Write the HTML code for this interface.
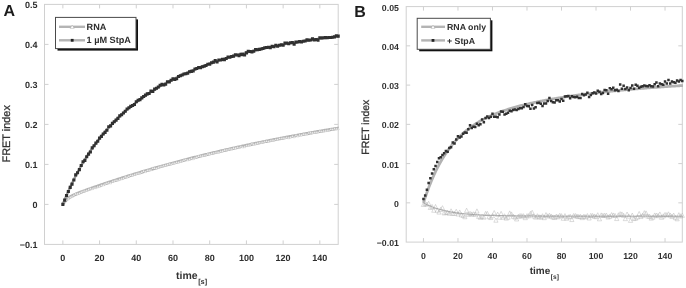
<!DOCTYPE html>
<html><head><meta charset="utf-8"><title>FRET index</title>
<style>html,body{margin:0;padding:0;background:#fff}svg{display:block;will-change:transform}text{text-rendering:geometricPrecision}</style>
</head><body>
<svg width="686" height="288" viewBox="0 0 686 288" font-family='"Liberation Sans", Arial, sans-serif' fill="#2e2e2e">
<rect width="686" height="288" fill="#fff"/>
<rect x="44.50" y="4.40" width="293.70" height="240.00" fill="#fff" stroke="#d0d0d0" stroke-width="1"/>
<path d="M62.86 244.40v-4M62.86 4.40v4M99.57 244.40v-4M99.57 4.40v4M136.28 244.40v-4M136.28 4.40v4M172.99 244.40v-4M172.99 4.40v4M209.71 244.40v-4M209.71 4.40v4M246.42 244.40v-4M246.42 4.40v4M283.13 244.40v-4M283.13 4.40v4M319.84 244.40v-4M319.84 4.40v4M44.50 44.40h4M338.20 44.40h-4M44.50 84.40h4M338.20 84.40h-4M44.50 124.40h4M338.20 124.40h-4M44.50 164.40h4M338.20 164.40h-4M44.50 204.40h4M338.20 204.40h-4" stroke="#d0d0d0" stroke-width="1" fill="none"/>
<text x="62.86" y="261.2" text-anchor="middle" font-size="9" font-weight="bold">0</text>
<text x="99.57" y="261.2" text-anchor="middle" font-size="9" font-weight="bold">20</text>
<text x="136.28" y="261.2" text-anchor="middle" font-size="9" font-weight="bold">40</text>
<text x="172.99" y="261.2" text-anchor="middle" font-size="9" font-weight="bold">60</text>
<text x="209.71" y="261.2" text-anchor="middle" font-size="9" font-weight="bold">80</text>
<text x="246.42" y="261.2" text-anchor="middle" font-size="9" font-weight="bold">100</text>
<text x="283.13" y="261.2" text-anchor="middle" font-size="9" font-weight="bold">120</text>
<text x="319.84" y="261.2" text-anchor="middle" font-size="9" font-weight="bold">140</text>
<text x="37.6" y="8.30" text-anchor="end" font-size="9" font-weight="bold">0.5</text>
<text x="37.6" y="48.30" text-anchor="end" font-size="9" font-weight="bold">0.4</text>
<text x="37.6" y="88.30" text-anchor="end" font-size="9" font-weight="bold">0.3</text>
<text x="37.6" y="128.30" text-anchor="end" font-size="9" font-weight="bold">0.2</text>
<text x="37.6" y="168.30" text-anchor="end" font-size="9" font-weight="bold">0.1</text>
<text x="37.6" y="208.30" text-anchor="end" font-size="9" font-weight="bold">0</text>
<text x="37.6" y="248.30" text-anchor="end" font-size="9" font-weight="bold">−0.1</text>
<text x="3.6" y="15.6" font-size="16" font-weight="bold" fill="#1c1c1c">A</text>
<text transform="translate(10.3,133.8) rotate(-90)" text-anchor="middle" font-size="10.9" font-weight="normal" fill="#333" stroke="#333" stroke-width="0.3">FRET index</text>
<text x="176.0" y="279.2" font-size="10.5" font-weight="bold" fill="#333">time<tspan font-size="7.3" dx="0.6" dy="5.1">[s]</tspan></text>
<polyline points="62.86,204.08 63.78,202.72 64.70,201.55 65.63,200.54 66.55,199.66 67.47,198.88 68.40,198.18 69.32,197.55 70.24,196.98 71.17,196.45 72.09,195.95 73.01,195.49 73.94,195.05 74.86,194.63 75.78,194.22 76.71,193.83 77.63,193.45 78.55,193.08 79.48,192.72 80.40,192.36 81.32,192.01 82.25,191.66 83.17,191.31 84.09,190.97 85.02,190.63 85.94,190.30 86.86,189.96 87.79,189.63 88.71,189.30 89.63,188.97 90.56,188.65 91.48,188.32 92.40,188.00 93.33,187.67 94.25,187.35 95.17,187.03 96.10,186.71 97.02,186.39 97.94,186.08 98.87,185.76 99.79,185.44 100.71,185.13 101.64,184.81 102.56,184.50 103.48,184.19 104.41,183.88 105.33,183.57 106.25,183.26 107.18,182.95 108.10,182.64 109.02,182.34 109.95,182.03 110.87,181.73 111.79,181.42 112.72,181.12 113.64,180.82 114.56,180.52 115.49,180.22 116.41,179.92 117.33,179.62 118.26,179.32 119.18,179.02 120.10,178.73 121.03,178.43 121.95,178.14 122.87,177.85 123.80,177.55 124.72,177.26 125.64,176.97 126.57,176.68 127.49,176.39 128.41,176.10 129.34,175.82 130.26,175.53 131.18,175.24 132.11,174.96 133.03,174.68 133.95,174.39 134.88,174.11 135.80,173.83 136.72,173.55 137.65,173.27 138.57,172.99 139.49,172.71 140.42,172.43 141.34,172.16 142.26,171.88 143.19,171.60 144.11,171.33 145.03,171.06 145.96,170.78 146.88,170.51 147.80,170.24 148.73,169.97 149.65,169.70 150.57,169.43 151.50,169.16 152.42,168.90 153.34,168.63 154.27,168.37 155.19,168.10 156.11,167.84 157.04,167.57 157.96,167.31 158.88,167.05 159.81,166.79 160.73,166.53 161.65,166.27 162.58,166.01 163.50,165.75 164.42,165.49 165.35,165.24 166.27,164.98 167.19,164.73 168.12,164.47 169.04,164.22 169.96,163.97 170.89,163.71 171.81,163.46 172.73,163.21 173.66,162.96 174.58,162.71 175.50,162.47 176.43,162.22 177.35,161.97 178.27,161.72 179.20,161.48 180.12,161.23 181.04,160.99 181.97,160.75 182.89,160.50 183.81,160.26 184.74,160.02 185.66,159.78 186.58,159.54 187.51,159.30 188.43,159.06 189.35,158.83 190.28,158.59 191.20,158.35 192.12,158.12 193.05,157.88 193.97,157.65 194.89,157.41 195.82,157.18 196.74,156.95 197.66,156.72 198.59,156.49 199.51,156.26 200.43,156.03 201.36,155.80 202.28,155.57 203.20,155.34 204.13,155.11 205.05,154.89 205.97,154.66 206.90,154.44 207.82,154.21 208.74,153.99 209.67,153.77 210.59,153.54 211.51,153.32 212.44,153.10 213.36,152.88 214.28,152.66 215.21,152.44 216.13,152.22 217.05,152.01 217.98,151.79 218.90,151.57 219.82,151.36 220.75,151.14 221.67,150.93 222.59,150.71 223.52,150.50 224.44,150.29 225.36,150.07 226.29,149.86 227.21,149.65 228.13,149.44 229.06,149.23 229.98,149.02 230.90,148.81 231.83,148.61 232.75,148.40 233.67,148.19 234.60,147.99 235.52,147.78 236.44,147.57 237.37,147.37 238.29,147.17 239.21,146.96 240.14,146.76 241.06,146.56 241.98,146.36 242.91,146.16 243.83,145.96 244.75,145.76 245.68,145.56 246.60,145.36 247.52,145.16 248.45,144.96 249.37,144.77 250.29,144.57 251.22,144.38 252.14,144.18 253.06,143.99 253.99,143.79 254.91,143.60 255.83,143.41 256.76,143.22 257.68,143.02 258.60,142.83 259.53,142.64 260.45,142.45 261.37,142.26 262.30,142.07 263.22,141.89 264.14,141.70 265.07,141.51 265.99,141.32 266.91,141.14 267.84,140.95 268.76,140.77 269.68,140.58 270.61,140.40 271.53,140.22 272.45,140.03 273.38,139.85 274.30,139.67 275.22,139.49 276.15,139.31 277.07,139.13 277.99,138.95 278.92,138.77 279.84,138.59 280.76,138.41 281.69,138.23 282.61,138.06 283.53,137.88 284.46,137.70 285.38,137.53 286.30,137.35 287.23,137.18 288.15,137.00 289.07,136.83 290.00,136.66 290.92,136.49 291.84,136.31 292.77,136.14 293.69,135.97 294.61,135.80 295.54,135.63 296.46,135.46 297.38,135.29 298.31,135.12 299.23,134.96 300.15,134.79 301.08,134.62 302.00,134.45 302.92,134.29 303.85,134.12 304.77,133.96 305.69,133.79 306.62,133.63 307.54,133.46 308.46,133.30 309.39,133.14 310.31,132.98 311.23,132.81 312.16,132.65 313.08,132.49 314.00,132.33 314.93,132.17 315.85,132.01 316.77,131.85 317.70,131.70 318.62,131.54 319.54,131.38 320.47,131.22 321.39,131.07 322.31,130.91 323.24,130.75 324.16,130.60 325.08,130.44 326.01,130.29 326.93,130.14 327.85,129.98 328.78,129.83 329.70,129.68 330.62,129.52 331.55,129.37 332.47,129.22 333.39,129.07 334.32,128.92 335.24,128.77 336.16,128.62 337.09,128.47 338.01,128.32 338.93,128.17" fill="none" stroke="#b2b2b2" stroke-width="3.2" stroke-linejoin="round" stroke-linecap="butt"/>
<path d="M62.86 202.98l1.10 2.20h-2.20zM64.69 200.35l1.10 2.20h-2.20zM66.53 198.69l1.10 2.20h-2.20zM68.36 197.46l1.10 2.20h-2.20zM70.20 196.08l1.10 2.20h-2.20zM72.03 195.28l1.10 2.20h-2.20zM73.87 193.95l1.10 2.20h-2.20zM75.71 192.62l1.10 2.20h-2.20zM77.54 192.58l1.10 2.20h-2.20zM79.38 191.90l1.10 2.20h-2.20zM81.21 190.75l1.10 2.20h-2.20zM83.05 190.12l1.10 2.20h-2.20zM84.88 189.54l1.10 2.20h-2.20zM86.72 189.29l1.10 2.20h-2.20zM88.55 188.27l1.10 2.20h-2.20zM90.39 187.33l1.10 2.20h-2.20zM92.23 187.50l1.10 2.20h-2.20zM94.06 186.50l1.10 2.20h-2.20zM95.90 186.44l1.10 2.20h-2.20zM97.73 185.56l1.10 2.20h-2.20zM99.57 185.16l1.10 2.20h-2.20zM101.40 183.89l1.10 2.20h-2.20zM103.24 183.68l1.10 2.20h-2.20zM105.08 182.45l1.10 2.20h-2.20zM106.91 181.88l1.10 2.20h-2.20zM108.75 181.40l1.10 2.20h-2.20zM110.58 181.73l1.10 2.20h-2.20zM112.42 180.33l1.10 2.20h-2.20zM114.25 179.54l1.10 2.20h-2.20zM116.09 178.88l1.10 2.20h-2.20zM117.92 178.94l1.10 2.20h-2.20zM119.76 177.93l1.10 2.20h-2.20zM121.60 177.54l1.10 2.20h-2.20zM123.43 176.89l1.10 2.20h-2.20zM125.27 175.57l1.10 2.20h-2.20zM127.10 175.74l1.10 2.20h-2.20zM128.94 174.85l1.10 2.20h-2.20zM130.77 173.92l1.10 2.20h-2.20zM132.61 173.94l1.10 2.20h-2.20zM134.45 173.19l1.10 2.20h-2.20zM136.28 172.54l1.10 2.20h-2.20zM138.12 172.00l1.10 2.20h-2.20zM139.95 171.96l1.10 2.20h-2.20zM141.79 170.89l1.10 2.20h-2.20zM143.62 169.83l1.10 2.20h-2.20zM145.46 170.45l1.10 2.20h-2.20zM147.29 168.95l1.10 2.20h-2.20zM149.13 168.71l1.10 2.20h-2.20zM150.97 168.48l1.10 2.20h-2.20zM152.80 166.89l1.10 2.20h-2.20zM154.64 166.85l1.10 2.20h-2.20zM156.47 167.11l1.10 2.20h-2.20zM158.31 166.08l1.10 2.20h-2.20zM160.14 165.36l1.10 2.20h-2.20zM161.98 165.15l1.10 2.20h-2.20zM163.82 164.29l1.10 2.20h-2.20zM165.65 164.08l1.10 2.20h-2.20zM167.49 163.28l1.10 2.20h-2.20zM169.32 162.47l1.10 2.20h-2.20zM171.16 162.81l1.10 2.20h-2.20zM172.99 161.96l1.10 2.20h-2.20zM174.83 161.73l1.10 2.20h-2.20zM176.66 161.00l1.10 2.20h-2.20zM178.50 161.04l1.10 2.20h-2.20zM180.34 160.31l1.10 2.20h-2.20zM182.17 159.67l1.10 2.20h-2.20zM184.01 158.75l1.10 2.20h-2.20zM185.84 158.17l1.10 2.20h-2.20zM187.68 158.69l1.10 2.20h-2.20zM189.51 158.00l1.10 2.20h-2.20zM191.35 156.95l1.10 2.20h-2.20zM193.19 157.54l1.10 2.20h-2.20zM195.02 156.47l1.10 2.20h-2.20zM196.86 155.86l1.10 2.20h-2.20zM198.69 154.86l1.10 2.20h-2.20zM200.53 154.63l1.10 2.20h-2.20zM202.36 154.58l1.10 2.20h-2.20zM204.20 154.14l1.10 2.20h-2.20zM206.03 153.65l1.10 2.20h-2.20zM207.87 152.49l1.10 2.20h-2.20zM209.71 152.83l1.10 2.20h-2.20zM211.54 152.34l1.10 2.20h-2.20zM213.38 151.64l1.10 2.20h-2.20zM215.21 151.39l1.10 2.20h-2.20zM217.05 150.99l1.10 2.20h-2.20zM218.88 150.92l1.10 2.20h-2.20zM220.72 150.05l1.10 2.20h-2.20zM222.56 149.80l1.10 2.20h-2.20zM224.39 148.73l1.10 2.20h-2.20zM226.23 148.51l1.10 2.20h-2.20zM228.06 148.37l1.10 2.20h-2.20zM229.90 147.67l1.10 2.20h-2.20zM231.73 147.66l1.10 2.20h-2.20zM233.57 146.69l1.10 2.20h-2.20zM235.40 146.71l1.10 2.20h-2.20zM237.24 146.07l1.10 2.20h-2.20zM239.08 146.41l1.10 2.20h-2.20zM240.91 145.35l1.10 2.20h-2.20zM242.75 145.77l1.10 2.20h-2.20zM244.58 145.51l1.10 2.20h-2.20zM246.42 144.42l1.10 2.20h-2.20zM248.25 144.27l1.10 2.20h-2.20zM250.09 143.45l1.10 2.20h-2.20zM251.93 142.23l1.10 2.20h-2.20zM253.76 143.07l1.10 2.20h-2.20zM255.60 142.61l1.10 2.20h-2.20zM257.43 141.89l1.10 2.20h-2.20zM259.27 141.40l1.10 2.20h-2.20zM261.10 141.29l1.10 2.20h-2.20zM262.94 140.93l1.10 2.20h-2.20zM264.77 140.19l1.10 2.20h-2.20zM266.61 139.89l1.10 2.20h-2.20zM268.45 140.14l1.10 2.20h-2.20zM270.28 139.40l1.10 2.20h-2.20zM272.12 138.99l1.10 2.20h-2.20zM273.95 139.06l1.10 2.20h-2.20zM275.79 138.17l1.10 2.20h-2.20zM277.62 138.26l1.10 2.20h-2.20zM279.46 137.17l1.10 2.20h-2.20zM281.30 137.13l1.10 2.20h-2.20zM283.13 136.82l1.10 2.20h-2.20zM284.97 136.74l1.10 2.20h-2.20zM286.80 136.21l1.10 2.20h-2.20zM288.64 136.61l1.10 2.20h-2.20zM290.47 135.92l1.10 2.20h-2.20zM292.31 134.98l1.10 2.20h-2.20zM294.14 135.64l1.10 2.20h-2.20zM295.98 134.11l1.10 2.20h-2.20zM297.82 134.81l1.10 2.20h-2.20zM299.65 133.48l1.10 2.20h-2.20zM301.49 133.78l1.10 2.20h-2.20zM303.32 132.80l1.10 2.20h-2.20zM305.16 132.74l1.10 2.20h-2.20zM306.99 133.08l1.10 2.20h-2.20zM308.83 131.64l1.10 2.20h-2.20zM310.67 131.24l1.10 2.20h-2.20zM312.50 131.52l1.10 2.20h-2.20zM314.34 131.28l1.10 2.20h-2.20zM316.17 130.92l1.10 2.20h-2.20zM318.01 130.93l1.10 2.20h-2.20zM319.84 129.79l1.10 2.20h-2.20zM321.68 130.13l1.10 2.20h-2.20zM323.51 129.63l1.10 2.20h-2.20zM325.35 129.62l1.10 2.20h-2.20zM327.19 129.24l1.10 2.20h-2.20zM329.02 129.20l1.10 2.20h-2.20zM330.86 127.88l1.10 2.20h-2.20zM332.69 128.15l1.10 2.20h-2.20zM334.53 127.40l1.10 2.20h-2.20zM336.36 127.48l1.10 2.20h-2.20zM338.20 127.47l1.10 2.20h-2.20z" fill="#fff" stroke="#bbbbbb" stroke-width="0.35" stroke-linejoin="miter"/>
<polyline points="62.86,204.40 63.78,202.08 64.70,199.81 65.63,197.58 66.55,195.39 67.47,193.25 68.40,191.15 69.32,189.09 70.24,187.07 71.17,185.09 72.09,183.14 73.01,181.23 73.94,179.36 74.86,177.52 75.78,175.71 76.71,173.93 77.63,172.19 78.55,170.48 79.48,168.80 80.40,167.15 81.32,165.52 82.25,163.93 83.17,162.36 84.09,160.82 85.02,159.30 85.94,157.81 86.86,156.35 87.79,154.90 88.71,153.49 89.63,152.09 90.56,150.72 91.48,149.36 92.40,148.03 93.33,146.73 94.25,145.44 95.17,144.17 96.10,142.92 97.02,141.69 97.94,140.47 98.87,139.28 99.79,138.10 100.71,136.94 101.64,135.80 102.56,134.67 103.48,133.56 104.41,132.47 105.33,131.39 106.25,130.33 107.18,129.28 108.10,128.24 109.02,127.22 109.95,126.21 110.87,125.22 111.79,124.24 112.72,123.27 113.64,122.32 114.56,121.38 115.49,120.45 116.41,119.53 117.33,118.62 118.26,117.73 119.18,116.85 120.10,115.98 121.03,115.11 121.95,114.26 122.87,113.42 123.80,112.59 124.72,111.77 125.64,110.96 126.57,110.16 127.49,109.37 128.41,108.59 129.34,107.82 130.26,107.05 131.18,106.30 132.11,105.55 133.03,104.82 133.95,104.09 134.88,103.37 135.80,102.65 136.72,101.95 137.65,101.25 138.57,100.56 139.49,99.88 140.42,99.21 141.34,98.54 142.26,97.88 143.19,97.23 144.11,96.58 145.03,95.94 145.96,95.31 146.88,94.68 147.80,94.06 148.73,93.45 149.65,92.84 150.57,92.24 151.50,91.65 152.42,91.06 153.34,90.48 154.27,89.90 155.19,89.33 156.11,88.77 157.04,88.21 157.96,87.66 158.88,87.11 159.81,86.57 160.73,86.03 161.65,85.50 162.58,84.97 163.50,84.45 164.42,83.93 165.35,83.42 166.27,82.91 167.19,82.41 168.12,81.91 169.04,81.42 169.96,80.93 170.89,80.45 171.81,79.97 172.73,79.50 173.66,79.03 174.58,78.56 175.50,78.10 176.43,77.65 177.35,77.19 178.27,76.74 179.20,76.30 180.12,75.86 181.04,75.42 181.97,74.99 182.89,74.56 183.81,74.14 184.74,73.72 185.66,73.30 186.58,72.89 187.51,72.48 188.43,72.07 189.35,71.67 190.28,71.27 191.20,70.88 192.12,70.49 193.05,70.10 193.97,69.71 194.89,69.33 195.82,68.95 196.74,68.58 197.66,68.21 198.59,67.84 199.51,67.48 200.43,67.11 201.36,66.76 202.28,66.40 203.20,66.05 204.13,65.70 205.05,65.35 205.97,65.01 206.90,64.67 207.82,64.33 208.74,64.00 209.67,63.67 210.59,63.34 211.51,63.01 212.44,62.69 213.36,62.37 214.28,62.05 215.21,61.74 216.13,61.42 217.05,61.11 217.98,60.81 218.90,60.50 219.82,60.20 220.75,59.90 221.67,59.61 222.59,59.31 223.52,59.02 224.44,58.73 225.36,58.44 226.29,58.16 227.21,57.88 228.13,57.60 229.06,57.32 229.98,57.05 230.90,56.77 231.83,56.50 232.75,56.23 233.67,55.97 234.60,55.70 235.52,55.44 236.44,55.18 237.37,54.93 238.29,54.67 239.21,54.42 240.14,54.17 241.06,53.92 241.98,53.67 242.91,53.43 243.83,53.19 244.75,52.95 245.68,52.71 246.60,52.47 247.52,52.24 248.45,52.00 249.37,51.77 250.29,51.54 251.22,51.32 252.14,51.09 253.06,50.87 253.99,50.65 254.91,50.43 255.83,50.21 256.76,49.99 257.68,49.78 258.60,49.57 259.53,49.36 260.45,49.15 261.37,48.94 262.30,48.73 263.22,48.53 264.14,48.33 265.07,48.13 265.99,47.93 266.91,47.73 267.84,47.54 268.76,47.34 269.68,47.15 270.61,46.96 271.53,46.77 272.45,46.58 273.38,46.40 274.30,46.21 275.22,46.03 276.15,45.85 277.07,45.67 277.99,45.49 278.92,45.31 279.84,45.13 280.76,44.96 281.69,44.79 282.61,44.61 283.53,44.44 284.46,44.28 285.38,44.11 286.30,43.94 287.23,43.78 288.15,43.61 289.07,43.45 290.00,43.29 290.92,43.13 291.84,42.97 292.77,42.82 293.69,42.66 294.61,42.51 295.54,42.35 296.46,42.20 297.38,42.05 298.31,41.90 299.23,41.75 300.15,41.61 301.08,41.46 302.00,41.32 302.92,41.17 303.85,41.03 304.77,40.89 305.69,40.75 306.62,40.61 307.54,40.47 308.46,40.34 309.39,40.20 310.31,40.07 311.23,39.93 312.16,39.80 313.08,39.67 314.00,39.54 314.93,39.41 315.85,39.28 316.77,39.16 317.70,39.03 318.62,38.91 319.54,38.78 320.47,38.66 321.39,38.54 322.31,38.42 323.24,38.30 324.16,38.18 325.08,38.06 326.01,37.94 326.93,37.83 327.85,37.71 328.78,37.60 329.70,37.49 330.62,37.37 331.55,37.26 332.47,37.15 333.39,37.04 334.32,36.93 335.24,36.83 336.16,36.72 337.09,36.61 338.01,36.51 338.93,36.40" fill="none" stroke="#9a9a9a" stroke-width="2.4" stroke-linejoin="round" stroke-linecap="butt"/>
<path d="M61.31 202.85h3.1v3.1h-3.1zM63.14 198.62h3.1v3.1h-3.1zM64.98 193.89h3.1v3.1h-3.1zM66.81 189.90h3.1v3.1h-3.1zM68.65 185.79h3.1v3.1h-3.1zM70.48 182.53h3.1v3.1h-3.1zM72.32 178.42h3.1v3.1h-3.1zM74.16 173.32h3.1v3.1h-3.1zM75.99 171.21h3.1v3.1h-3.1zM77.83 168.06h3.1v3.1h-3.1zM79.66 163.96h3.1v3.1h-3.1zM81.50 160.17h3.1v3.1h-3.1zM83.33 158.84h3.1v3.1h-3.1zM85.17 155.15h3.1v3.1h-3.1zM87.00 152.55h3.1v3.1h-3.1zM88.84 150.47h3.1v3.1h-3.1zM90.68 146.30h3.1v3.1h-3.1zM92.51 144.16h3.1v3.1h-3.1zM94.35 141.59h3.1v3.1h-3.1zM96.18 139.65h3.1v3.1h-3.1zM98.02 136.56h3.1v3.1h-3.1zM99.85 134.86h3.1v3.1h-3.1zM101.69 132.39h3.1v3.1h-3.1zM103.53 130.80h3.1v3.1h-3.1zM105.36 128.76h3.1v3.1h-3.1zM107.20 125.17h3.1v3.1h-3.1zM109.03 124.28h3.1v3.1h-3.1zM110.87 121.86h3.1v3.1h-3.1zM112.70 120.16h3.1v3.1h-3.1zM114.54 118.56h3.1v3.1h-3.1zM116.38 116.81h3.1v3.1h-3.1zM118.21 114.37h3.1v3.1h-3.1zM120.05 113.22h3.1v3.1h-3.1zM121.88 111.46h3.1v3.1h-3.1zM123.72 109.73h3.1v3.1h-3.1zM125.55 107.45h3.1v3.1h-3.1zM127.39 106.19h3.1v3.1h-3.1zM129.22 104.85h3.1v3.1h-3.1zM131.06 103.94h3.1v3.1h-3.1zM132.90 102.98h3.1v3.1h-3.1zM134.73 100.17h3.1v3.1h-3.1zM136.57 98.77h3.1v3.1h-3.1zM138.40 98.08h3.1v3.1h-3.1zM140.24 96.34h3.1v3.1h-3.1zM142.07 94.90h3.1v3.1h-3.1zM143.91 93.60h3.1v3.1h-3.1zM145.74 92.30h3.1v3.1h-3.1zM147.58 91.91h3.1v3.1h-3.1zM149.42 89.53h3.1v3.1h-3.1zM151.25 90.02h3.1v3.1h-3.1zM153.09 87.61h3.1v3.1h-3.1zM154.92 86.70h3.1v3.1h-3.1zM156.76 85.38h3.1v3.1h-3.1zM158.59 83.69h3.1v3.1h-3.1zM160.43 82.87h3.1v3.1h-3.1zM162.27 83.41h3.1v3.1h-3.1zM164.10 82.72h3.1v3.1h-3.1zM165.94 80.21h3.1v3.1h-3.1zM167.77 80.33h3.1v3.1h-3.1zM169.61 78.77h3.1v3.1h-3.1zM171.44 77.31h3.1v3.1h-3.1zM173.28 77.87h3.1v3.1h-3.1zM175.11 77.24h3.1v3.1h-3.1zM176.95 74.93h3.1v3.1h-3.1zM178.79 74.18h3.1v3.1h-3.1zM180.62 73.49h3.1v3.1h-3.1zM182.46 72.48h3.1v3.1h-3.1zM184.29 72.19h3.1v3.1h-3.1zM186.13 71.76h3.1v3.1h-3.1zM187.96 70.15h3.1v3.1h-3.1zM189.80 69.85h3.1v3.1h-3.1zM191.64 69.48h3.1v3.1h-3.1zM193.47 67.43h3.1v3.1h-3.1zM195.31 67.02h3.1v3.1h-3.1zM197.14 66.01h3.1v3.1h-3.1zM198.98 66.12h3.1v3.1h-3.1zM200.81 65.21h3.1v3.1h-3.1zM202.65 64.72h3.1v3.1h-3.1zM204.48 63.97h3.1v3.1h-3.1zM206.32 62.65h3.1v3.1h-3.1zM208.16 62.57h3.1v3.1h-3.1zM209.99 61.24h3.1v3.1h-3.1zM211.83 60.61h3.1v3.1h-3.1zM213.66 58.97h3.1v3.1h-3.1zM215.50 60.40h3.1v3.1h-3.1zM217.33 58.43h3.1v3.1h-3.1zM219.17 58.41h3.1v3.1h-3.1zM221.01 57.78h3.1v3.1h-3.1zM222.84 58.07h3.1v3.1h-3.1zM224.68 56.90h3.1v3.1h-3.1zM226.51 55.62h3.1v3.1h-3.1zM228.35 55.57h3.1v3.1h-3.1zM230.18 54.93h3.1v3.1h-3.1zM232.02 54.62h3.1v3.1h-3.1zM233.85 53.23h3.1v3.1h-3.1zM235.69 53.42h3.1v3.1h-3.1zM237.53 54.23h3.1v3.1h-3.1zM239.36 52.82h3.1v3.1h-3.1zM241.20 53.10h3.1v3.1h-3.1zM243.03 53.39h3.1v3.1h-3.1zM244.87 51.28h3.1v3.1h-3.1zM246.70 49.70h3.1v3.1h-3.1zM248.54 50.02h3.1v3.1h-3.1zM250.38 50.30h3.1v3.1h-3.1zM252.21 49.71h3.1v3.1h-3.1zM254.05 48.04h3.1v3.1h-3.1zM255.88 48.19h3.1v3.1h-3.1zM257.72 47.84h3.1v3.1h-3.1zM259.55 47.48h3.1v3.1h-3.1zM261.39 47.02h3.1v3.1h-3.1zM263.22 46.16h3.1v3.1h-3.1zM265.06 45.91h3.1v3.1h-3.1zM266.90 45.73h3.1v3.1h-3.1zM268.73 46.10h3.1v3.1h-3.1zM270.57 44.79h3.1v3.1h-3.1zM272.40 45.14h3.1v3.1h-3.1zM274.24 43.71h3.1v3.1h-3.1zM276.07 44.77h3.1v3.1h-3.1zM277.91 43.74h3.1v3.1h-3.1zM279.75 43.31h3.1v3.1h-3.1zM281.58 43.76h3.1v3.1h-3.1zM283.42 41.60h3.1v3.1h-3.1zM285.25 41.43h3.1v3.1h-3.1zM287.09 42.26h3.1v3.1h-3.1zM288.92 41.20h3.1v3.1h-3.1zM290.76 41.12h3.1v3.1h-3.1zM292.59 42.60h3.1v3.1h-3.1zM294.43 40.58h3.1v3.1h-3.1zM296.27 40.47h3.1v3.1h-3.1zM298.10 40.09h3.1v3.1h-3.1zM299.94 40.49h3.1v3.1h-3.1zM301.77 39.72h3.1v3.1h-3.1zM303.61 39.39h3.1v3.1h-3.1zM305.44 38.29h3.1v3.1h-3.1zM307.28 38.53h3.1v3.1h-3.1zM309.12 38.47h3.1v3.1h-3.1zM310.95 37.29h3.1v3.1h-3.1zM312.79 38.28h3.1v3.1h-3.1zM314.62 37.92h3.1v3.1h-3.1zM316.46 38.53h3.1v3.1h-3.1zM318.29 36.25h3.1v3.1h-3.1zM320.13 36.37h3.1v3.1h-3.1zM321.96 36.16h3.1v3.1h-3.1zM323.80 36.08h3.1v3.1h-3.1zM325.64 36.18h3.1v3.1h-3.1zM327.47 35.89h3.1v3.1h-3.1zM329.31 35.95h3.1v3.1h-3.1zM331.14 35.70h3.1v3.1h-3.1zM332.98 35.33h3.1v3.1h-3.1zM334.81 34.24h3.1v3.1h-3.1zM336.65 34.60h3.1v3.1h-3.1z" fill="#303030"/>
<rect x="57.5" y="19.4" width="80.5" height="31.2" fill="#111"/>
<rect x="55.5" y="17.4" width="80.5" height="31.2" fill="#fff" stroke="#4a4a4a" stroke-width="1"/>
<line x1="59" y1="26.8" x2="85" y2="26.8" stroke="#b4b4b4" stroke-width="2.4"/>
<path d="M72.2 25.0l2 3.4h-4z" fill="#fff" stroke="#aaa" stroke-width="0.5"/>
<text x="86.6" y="30.1" font-size="9.15" font-weight="bold">RNA</text>
<line x1="59" y1="40.3" x2="85" y2="40.3" stroke="#b4b4b4" stroke-width="2.4"/>
<rect x="70.8" y="38.9" width="2.8" height="2.8" fill="#222"/>
<text x="86.6" y="43.4" font-size="9.15" font-weight="bold">1 µM StpA</text>
<rect x="406.20" y="6.60" width="276.10" height="235.50" fill="#fff" stroke="#d0d0d0" stroke-width="1"/>
<path d="M423.46 242.10v-4M423.46 6.60v4M457.97 242.10v-4M457.97 6.60v4M492.48 242.10v-4M492.48 6.60v4M526.99 242.10v-4M526.99 6.60v4M561.51 242.10v-4M561.51 6.60v4M596.02 242.10v-4M596.02 6.60v4M630.53 242.10v-4M630.53 6.60v4M665.04 242.10v-4M665.04 6.60v4M406.20 45.85h4M682.30 45.85h-4M406.20 85.10h4M682.30 85.10h-4M406.20 124.35h4M682.30 124.35h-4M406.20 163.60h4M682.30 163.60h-4M406.20 202.85h4M682.30 202.85h-4" stroke="#d0d0d0" stroke-width="1" fill="none"/>
<text x="423.46" y="258.5" text-anchor="middle" font-size="8.75" font-weight="bold">0</text>
<text x="457.97" y="258.5" text-anchor="middle" font-size="8.75" font-weight="bold">20</text>
<text x="492.48" y="258.5" text-anchor="middle" font-size="8.75" font-weight="bold">40</text>
<text x="526.99" y="258.5" text-anchor="middle" font-size="8.75" font-weight="bold">60</text>
<text x="561.51" y="258.5" text-anchor="middle" font-size="8.75" font-weight="bold">80</text>
<text x="596.02" y="258.5" text-anchor="middle" font-size="8.75" font-weight="bold">100</text>
<text x="630.53" y="258.5" text-anchor="middle" font-size="8.75" font-weight="bold">120</text>
<text x="665.04" y="258.5" text-anchor="middle" font-size="8.75" font-weight="bold">140</text>
<text x="398.9" y="10.50" text-anchor="end" font-size="8.75" font-weight="bold">0.05</text>
<text x="398.9" y="49.75" text-anchor="end" font-size="8.75" font-weight="bold">0.04</text>
<text x="398.9" y="89.00" text-anchor="end" font-size="8.75" font-weight="bold">0.03</text>
<text x="398.9" y="128.25" text-anchor="end" font-size="8.75" font-weight="bold">0.02</text>
<text x="398.9" y="167.50" text-anchor="end" font-size="8.75" font-weight="bold">0.01</text>
<text x="398.9" y="206.75" text-anchor="end" font-size="8.75" font-weight="bold">0</text>
<text x="398.9" y="246.00" text-anchor="end" font-size="8.75" font-weight="bold">−0.01</text>
<text x="354.3" y="16.5" font-size="16" font-weight="bold" fill="#1c1c1c">B</text>
<text transform="translate(369.2,127.2) rotate(-90)" text-anchor="middle" font-size="10.45" font-weight="normal" fill="#333" stroke="#333" stroke-width="0.3">FRET index</text>
<text x="529.7" y="273.8" font-size="10" font-weight="bold" fill="#333">time<tspan font-size="6.6" dx="0.6" dy="5.4">[s]</tspan></text>
<polyline points="423.46,202.85 424.32,200.15 425.19,197.54 426.06,195.00 426.93,192.54 427.80,190.15 428.66,187.83 429.53,185.57 430.40,183.38 431.27,181.26 432.14,179.20 433.00,177.19 433.87,175.25 434.74,173.36 435.61,171.52 436.48,169.74 437.34,168.00 438.21,166.32 439.08,164.68 439.95,163.09 440.82,161.54 441.68,160.04 442.55,158.58 443.42,157.15 444.29,155.77 445.16,154.43 446.02,153.12 446.89,151.84 447.76,150.61 448.63,149.40 449.50,148.23 450.36,147.08 451.23,145.97 452.10,144.89 452.97,143.83 453.84,142.80 454.70,141.80 455.57,140.83 456.44,139.88 457.31,138.95 458.18,138.05 459.04,137.17 459.91,136.31 460.78,135.47 461.65,134.66 462.52,133.86 463.38,133.09 464.25,132.33 465.12,131.59 465.99,130.87 466.86,130.16 467.72,129.47 468.59,128.80 469.46,128.14 470.33,127.50 471.20,126.87 472.06,126.26 472.93,125.66 473.80,125.08 474.67,124.51 475.54,123.95 476.40,123.40 477.27,122.86 478.14,122.34 479.01,121.82 479.88,121.32 480.74,120.83 481.61,120.35 482.48,119.88 483.35,119.41 484.22,118.96 485.08,118.52 485.95,118.08 486.82,117.65 487.69,117.24 488.56,116.83 489.42,116.42 490.29,116.03 491.16,115.64 492.03,115.26 492.90,114.89 493.76,114.52 494.63,114.16 495.50,113.81 496.37,113.46 497.24,113.12 498.10,112.79 498.97,112.46 499.84,112.13 500.71,111.81 501.58,111.50 502.44,111.19 503.31,110.89 504.18,110.59 505.05,110.30 505.92,110.01 506.78,109.73 507.65,109.45 508.52,109.17 509.39,108.90 510.26,108.63 511.12,108.37 511.99,108.11 512.86,107.85 513.73,107.60 514.60,107.35 515.46,107.11 516.33,106.87 517.20,106.63 518.07,106.39 518.94,106.16 519.80,105.93 520.67,105.70 521.54,105.48 522.41,105.26 523.28,105.04 524.15,104.83 525.01,104.62 525.88,104.41 526.75,104.20 527.62,104.00 528.49,103.80 529.35,103.60 530.22,103.40 531.09,103.20 531.96,103.01 532.83,102.82 533.69,102.63 534.56,102.45 535.43,102.26 536.30,102.08 537.17,101.90 538.03,101.72 538.90,101.55 539.77,101.37 540.64,101.20 541.51,101.03 542.37,100.86 543.24,100.69 544.11,100.53 544.98,100.36 545.85,100.20 546.71,100.04 547.58,99.88 548.45,99.72 549.32,99.57 550.19,99.41 551.05,99.26 551.92,99.11 552.79,98.96 553.66,98.81 554.53,98.66 555.39,98.52 556.26,98.37 557.13,98.23 558.00,98.08 558.87,97.94 559.73,97.80 560.60,97.66 561.47,97.53 562.34,97.39 563.21,97.26 564.07,97.12 564.94,96.99 565.81,96.86 566.68,96.73 567.55,96.60 568.41,96.47 569.28,96.34 570.15,96.21 571.02,96.09 571.89,95.96 572.75,95.84 573.62,95.72 574.49,95.60 575.36,95.48 576.23,95.36 577.09,95.24 577.96,95.12 578.83,95.00 579.70,94.89 580.57,94.77 581.43,94.66 582.30,94.54 583.17,94.43 584.04,94.32 584.91,94.21 585.77,94.10 586.64,93.99 587.51,93.88 588.38,93.77 589.25,93.67 590.11,93.56 590.98,93.46 591.85,93.35 592.72,93.25 593.59,93.14 594.45,93.04 595.32,92.94 596.19,92.84 597.06,92.74 597.93,92.64 598.79,92.54 599.66,92.44 600.53,92.35 601.40,92.25 602.27,92.15 603.13,92.06 604.00,91.96 604.87,91.87 605.74,91.78 606.61,91.68 607.47,91.59 608.34,91.50 609.21,91.41 610.08,91.32 610.95,91.23 611.81,91.14 612.68,91.05 613.55,90.96 614.42,90.88 615.29,90.79 616.15,90.70 617.02,90.62 617.89,90.53 618.76,90.45 619.63,90.37 620.49,90.28 621.36,90.20 622.23,90.12 623.10,90.04 623.97,89.96 624.83,89.87 625.70,89.80 626.57,89.72 627.44,89.64 628.31,89.56 629.17,89.48 630.04,89.40 630.91,89.33 631.78,89.25 632.65,89.17 633.51,89.10 634.38,89.02 635.25,88.95 636.12,88.88 636.99,88.80 637.85,88.73 638.72,88.66 639.59,88.59 640.46,88.51 641.33,88.44 642.19,88.37 643.06,88.30 643.93,88.23 644.80,88.16 645.67,88.09 646.53,88.03 647.40,87.96 648.27,87.89 649.14,87.82 650.01,87.76 650.87,87.69 651.74,87.63 652.61,87.56 653.48,87.49 654.35,87.43 655.21,87.37 656.08,87.30 656.95,87.24 657.82,87.18 658.69,87.11 659.55,87.05 660.42,86.99 661.29,86.93 662.16,86.87 663.03,86.81 663.89,86.75 664.76,86.69 665.63,86.63 666.50,86.57 667.37,86.51 668.23,86.45 669.10,86.40 669.97,86.34 670.84,86.28 671.71,86.22 672.57,86.17 673.44,86.11 674.31,86.06 675.18,86.00 676.05,85.95 676.91,85.89 677.78,85.84 678.65,85.78 679.52,85.73 680.39,85.68 681.25,85.62 682.12,85.57 682.99,85.52" fill="none" stroke="#b2b2b2" stroke-width="2.8" stroke-linejoin="round" stroke-linecap="butt"/>
<path d="M423.46 202.28l2.10 4.20h-4.20zM425.18 201.46l2.10 4.20h-4.20zM426.91 202.04l2.10 4.20h-4.20zM428.63 201.24l2.10 4.20h-4.20zM430.36 205.27l2.10 4.20h-4.20zM432.08 204.43l2.10 4.20h-4.20zM433.81 208.05l2.10 4.20h-4.20zM435.54 204.46l2.10 4.20h-4.20zM437.26 208.08l2.10 4.20h-4.20zM438.99 209.88l2.10 4.20h-4.20zM440.71 207.27l2.10 4.20h-4.20zM442.44 205.67l2.10 4.20h-4.20zM444.16 210.73l2.10 4.20h-4.20zM445.89 210.35l2.10 4.20h-4.20zM447.62 210.11l2.10 4.20h-4.20zM449.34 211.13l2.10 4.20h-4.20zM451.07 208.78l2.10 4.20h-4.20zM452.79 211.17l2.10 4.20h-4.20zM454.52 211.29l2.10 4.20h-4.20zM456.24 209.24l2.10 4.20h-4.20zM457.97 211.84l2.10 4.20h-4.20zM459.69 209.96l2.10 4.20h-4.20zM461.42 212.65l2.10 4.20h-4.20zM463.15 213.26l2.10 4.20h-4.20zM464.87 214.54l2.10 4.20h-4.20zM466.60 208.18l2.10 4.20h-4.20zM468.32 212.18l2.10 4.20h-4.20zM470.05 211.33l2.10 4.20h-4.20zM471.77 211.95l2.10 4.20h-4.20zM473.50 211.74l2.10 4.20h-4.20zM475.22 212.05l2.10 4.20h-4.20zM476.95 208.87l2.10 4.20h-4.20zM478.68 214.18l2.10 4.20h-4.20zM480.40 215.19l2.10 4.20h-4.20zM482.13 214.31l2.10 4.20h-4.20zM483.85 214.96l2.10 4.20h-4.20zM485.58 211.36l2.10 4.20h-4.20zM487.30 211.30l2.10 4.20h-4.20zM489.03 214.52l2.10 4.20h-4.20zM490.76 215.34l2.10 4.20h-4.20zM492.48 213.56l2.10 4.20h-4.20zM494.21 210.53l2.10 4.20h-4.20zM495.93 218.02l2.10 4.20h-4.20zM497.66 212.15l2.10 4.20h-4.20zM499.38 215.03l2.10 4.20h-4.20zM501.11 211.33l2.10 4.20h-4.20zM502.83 215.11l2.10 4.20h-4.20zM504.56 213.74l2.10 4.20h-4.20zM506.29 215.93l2.10 4.20h-4.20zM508.01 215.03l2.10 4.20h-4.20zM509.74 210.88l2.10 4.20h-4.20zM511.46 211.90l2.10 4.20h-4.20zM513.19 214.09l2.10 4.20h-4.20zM514.91 214.94l2.10 4.20h-4.20zM516.64 216.77l2.10 4.20h-4.20zM518.37 214.14l2.10 4.20h-4.20zM520.09 213.51l2.10 4.20h-4.20zM521.82 213.62l2.10 4.20h-4.20zM523.54 213.66l2.10 4.20h-4.20zM525.27 215.49l2.10 4.20h-4.20zM526.99 213.64l2.10 4.20h-4.20zM528.72 213.60l2.10 4.20h-4.20zM530.44 211.26l2.10 4.20h-4.20zM532.17 210.26l2.10 4.20h-4.20zM533.90 213.81l2.10 4.20h-4.20zM535.62 214.93l2.10 4.20h-4.20zM537.35 213.70l2.10 4.20h-4.20zM539.07 214.66l2.10 4.20h-4.20zM540.80 214.91l2.10 4.20h-4.20zM542.52 213.71l2.10 4.20h-4.20zM544.25 215.46l2.10 4.20h-4.20zM545.98 212.55l2.10 4.20h-4.20zM547.70 213.81l2.10 4.20h-4.20zM549.43 213.19l2.10 4.20h-4.20zM551.15 213.96l2.10 4.20h-4.20zM552.88 214.92l2.10 4.20h-4.20zM554.60 215.32l2.10 4.20h-4.20zM556.33 214.07l2.10 4.20h-4.20zM558.05 214.62l2.10 4.20h-4.20zM559.78 213.24l2.10 4.20h-4.20zM561.51 213.67l2.10 4.20h-4.20zM563.23 216.07l2.10 4.20h-4.20zM564.96 213.55l2.10 4.20h-4.20zM566.68 216.04l2.10 4.20h-4.20zM568.41 214.76l2.10 4.20h-4.20zM570.13 214.19l2.10 4.20h-4.20zM571.86 217.34l2.10 4.20h-4.20zM573.59 213.51l2.10 4.20h-4.20zM575.31 213.41l2.10 4.20h-4.20zM577.04 213.96l2.10 4.20h-4.20zM578.76 214.43l2.10 4.20h-4.20zM580.49 214.34l2.10 4.20h-4.20zM582.21 215.41l2.10 4.20h-4.20zM583.94 214.16l2.10 4.20h-4.20zM585.66 214.66l2.10 4.20h-4.20zM587.39 213.53l2.10 4.20h-4.20zM589.12 215.82l2.10 4.20h-4.20zM590.84 213.27l2.10 4.20h-4.20zM592.57 213.44l2.10 4.20h-4.20zM594.29 213.94l2.10 4.20h-4.20zM596.02 214.47l2.10 4.20h-4.20zM597.74 212.72l2.10 4.20h-4.20zM599.47 216.63l2.10 4.20h-4.20zM601.20 212.88l2.10 4.20h-4.20zM602.92 213.27l2.10 4.20h-4.20zM604.65 213.19l2.10 4.20h-4.20zM606.37 213.02l2.10 4.20h-4.20zM608.10 214.85l2.10 4.20h-4.20zM609.82 214.15l2.10 4.20h-4.20zM611.55 212.57l2.10 4.20h-4.20zM613.27 212.94l2.10 4.20h-4.20zM615.00 213.33l2.10 4.20h-4.20zM616.73 216.37l2.10 4.20h-4.20zM618.45 212.75l2.10 4.20h-4.20zM620.18 211.63l2.10 4.20h-4.20zM621.90 211.92l2.10 4.20h-4.20zM623.63 213.29l2.10 4.20h-4.20zM625.35 216.45l2.10 4.20h-4.20zM627.08 212.03l2.10 4.20h-4.20zM628.81 213.96l2.10 4.20h-4.20zM630.53 218.17l2.10 4.20h-4.20zM632.26 213.03l2.10 4.20h-4.20zM633.98 216.34l2.10 4.20h-4.20zM635.71 215.99l2.10 4.20h-4.20zM637.43 214.82l2.10 4.20h-4.20zM639.16 211.45l2.10 4.20h-4.20zM640.88 214.36l2.10 4.20h-4.20zM642.61 213.22l2.10 4.20h-4.20zM644.34 210.61l2.10 4.20h-4.20zM646.06 210.89l2.10 4.20h-4.20zM647.79 213.88l2.10 4.20h-4.20zM649.51 214.13l2.10 4.20h-4.20zM651.24 215.93l2.10 4.20h-4.20zM652.96 214.93l2.10 4.20h-4.20zM654.69 212.95l2.10 4.20h-4.20zM656.42 213.00l2.10 4.20h-4.20zM658.14 213.51l2.10 4.20h-4.20zM659.87 211.94l2.10 4.20h-4.20zM661.59 215.07l2.10 4.20h-4.20zM663.32 213.80l2.10 4.20h-4.20zM665.04 212.41l2.10 4.20h-4.20zM666.77 212.67l2.10 4.20h-4.20zM668.49 211.81l2.10 4.20h-4.20zM670.22 213.00l2.10 4.20h-4.20zM671.95 214.25l2.10 4.20h-4.20zM673.67 213.06l2.10 4.20h-4.20zM675.40 215.47l2.10 4.20h-4.20zM677.12 216.60l2.10 4.20h-4.20zM678.85 212.68l2.10 4.20h-4.20zM680.57 213.80l2.10 4.20h-4.20zM682.30 213.16l2.10 4.20h-4.20z" fill="rgba(255,255,255,0.65)" stroke="#b0b0b0" stroke-width="0.45" stroke-linejoin="miter"/>
<polyline points="423.46,202.85 424.32,203.32 425.19,203.78 426.06,204.21 426.93,204.64 427.80,205.04 428.66,205.44 429.53,205.82 430.40,206.18 431.27,206.54 432.14,206.88 433.00,207.21 433.87,207.52 434.74,207.83 435.61,208.13 436.48,208.41 437.34,208.68 438.21,208.95 439.08,209.21 439.95,209.45 440.82,209.69 441.68,209.92 442.55,210.14 443.42,210.35 444.29,210.56 445.16,210.76 446.02,210.95 446.89,211.14 447.76,211.32 448.63,211.49 449.50,211.65 450.36,211.81 451.23,211.97 452.10,212.12 452.97,212.26 453.84,212.40 454.70,212.53 455.57,212.66 456.44,212.79 457.31,212.91 458.18,213.02 459.04,213.14 459.91,213.24 460.78,213.35 461.65,213.45 462.52,213.55 463.38,213.64 464.25,213.73 465.12,213.82 465.99,213.90 466.86,213.98 467.72,214.06 468.59,214.13 469.46,214.21 470.33,214.28 471.20,214.35 472.06,214.41 472.93,214.47 473.80,214.53 474.67,214.59 475.54,214.65 476.40,214.70 477.27,214.76 478.14,214.81 479.01,214.86 479.88,214.90 480.74,214.95 481.61,214.99 482.48,215.04 483.35,215.08 484.22,215.12 485.08,215.15 485.95,215.19 486.82,215.23 487.69,215.26 488.56,215.29 489.42,215.33 490.29,215.36 491.16,215.39 492.03,215.41 492.90,215.44 493.76,215.47 494.63,215.49 495.50,215.52 496.37,215.54 497.24,215.57 498.10,215.59 498.97,215.61 499.84,215.63 500.71,215.65 501.58,215.67 502.44,215.69 503.31,215.71 504.18,215.72 505.05,215.74 505.92,215.76 506.78,215.77 507.65,215.79 508.52,215.80 509.39,215.81 510.26,215.83 511.12,215.84 511.99,215.85 512.86,215.87 513.73,215.88 514.60,215.89 515.46,215.90 516.33,215.91 517.20,215.92 518.07,215.93 518.94,215.94 519.80,215.95 520.67,215.96 521.54,215.96 522.41,215.97 523.28,215.98 524.15,215.99 525.01,216.00 525.88,216.00 526.75,216.01 527.62,216.02 528.49,216.02 529.35,216.03 530.22,216.03 531.09,216.04 531.96,216.05 532.83,216.05 533.69,216.06 534.56,216.06 535.43,216.07 536.30,216.07 537.17,216.07 538.03,216.08 538.90,216.08 539.77,216.09 540.64,216.09 541.51,216.09 542.37,216.10 543.24,216.10 544.11,216.10 544.98,216.11 545.85,216.11 546.71,216.11 547.58,216.12 548.45,216.12 549.32,216.12 550.19,216.12 551.05,216.13 551.92,216.13 552.79,216.13 553.66,216.13 554.53,216.14 555.39,216.14 556.26,216.14 557.13,216.14 558.00,216.14 558.87,216.15 559.73,216.15 560.60,216.15 561.47,216.15 562.34,216.15 563.21,216.15 564.07,216.16 564.94,216.16 565.81,216.16 566.68,216.16 567.55,216.16 568.41,216.16 569.28,216.16 570.15,216.16 571.02,216.17 571.89,216.17 572.75,216.17 573.62,216.17 574.49,216.17 575.36,216.17 576.23,216.17 577.09,216.17 577.96,216.17 578.83,216.17 579.70,216.17 580.57,216.18 581.43,216.18 582.30,216.18 583.17,216.18 584.04,216.18 584.91,216.18 585.77,216.18 586.64,216.18 587.51,216.18 588.38,216.18 589.25,216.18 590.11,216.18 590.98,216.18 591.85,216.18 592.72,216.18 593.59,216.18 594.45,216.18 595.32,216.18 596.19,216.18 597.06,216.18 597.93,216.19 598.79,216.19 599.66,216.19 600.53,216.19 601.40,216.19 602.27,216.19 603.13,216.19 604.00,216.19 604.87,216.19 605.74,216.19 606.61,216.19 607.47,216.19 608.34,216.19 609.21,216.19 610.08,216.19 610.95,216.19 611.81,216.19 612.68,216.19 613.55,216.19 614.42,216.19 615.29,216.19 616.15,216.19 617.02,216.19 617.89,216.19 618.76,216.19 619.63,216.19 620.49,216.19 621.36,216.19 622.23,216.19 623.10,216.19 623.97,216.19 624.83,216.19 625.70,216.19 626.57,216.19 627.44,216.19 628.31,216.19 629.17,216.19 630.04,216.19 630.91,216.19 631.78,216.19 632.65,216.19 633.51,216.19 634.38,216.19 635.25,216.19 636.12,216.19 636.99,216.19 637.85,216.19 638.72,216.19 639.59,216.19 640.46,216.19 641.33,216.19 642.19,216.19 643.06,216.19 643.93,216.19 644.80,216.19 645.67,216.19 646.53,216.19 647.40,216.19 648.27,216.19 649.14,216.19 650.01,216.19 650.87,216.19 651.74,216.19 652.61,216.19 653.48,216.19 654.35,216.19 655.21,216.19 656.08,216.19 656.95,216.19 657.82,216.19 658.69,216.19 659.55,216.19 660.42,216.19 661.29,216.19 662.16,216.19 663.03,216.19 663.89,216.19 664.76,216.19 665.63,216.19 666.50,216.19 667.37,216.19 668.23,216.19 669.10,216.19 669.97,216.19 670.84,216.19 671.71,216.19 672.57,216.19 673.44,216.19 674.31,216.19 675.18,216.19 676.05,216.19 676.91,216.19 677.78,216.19 678.65,216.19 679.52,216.19 680.39,216.19 681.25,216.19 682.12,216.19 682.99,216.19" fill="none" stroke="#989898" stroke-width="0.9" stroke-linejoin="round" stroke-linecap="butt"/>
<path d="M422.21 197.68h2.5v2.5h-2.5zM423.93 194.23h2.5v2.5h-2.5zM425.66 188.41h2.5v2.5h-2.5zM427.38 181.68h2.5v2.5h-2.5zM429.11 176.90h2.5v2.5h-2.5zM430.83 172.18h2.5v2.5h-2.5zM432.56 168.01h2.5v2.5h-2.5zM434.29 164.76h2.5v2.5h-2.5zM436.01 160.66h2.5v2.5h-2.5zM437.74 156.96h2.5v2.5h-2.5zM439.46 155.92h2.5v2.5h-2.5zM441.19 153.75h2.5v2.5h-2.5zM442.91 151.94h2.5v2.5h-2.5zM444.64 149.75h2.5v2.5h-2.5zM446.37 150.62h2.5v2.5h-2.5zM448.09 146.80h2.5v2.5h-2.5zM449.82 146.02h2.5v2.5h-2.5zM451.54 141.35h2.5v2.5h-2.5zM453.27 142.27h2.5v2.5h-2.5zM454.99 138.28h2.5v2.5h-2.5zM456.72 134.99h2.5v2.5h-2.5zM458.44 136.36h2.5v2.5h-2.5zM460.17 135.25h2.5v2.5h-2.5zM461.90 132.43h2.5v2.5h-2.5zM463.62 131.31h2.5v2.5h-2.5zM465.35 131.58h2.5v2.5h-2.5zM467.07 127.88h2.5v2.5h-2.5zM468.80 124.08h2.5v2.5h-2.5zM470.52 126.65h2.5v2.5h-2.5zM472.25 125.44h2.5v2.5h-2.5zM473.97 125.77h2.5v2.5h-2.5zM475.70 122.50h2.5v2.5h-2.5zM477.43 124.12h2.5v2.5h-2.5zM479.15 122.97h2.5v2.5h-2.5zM480.88 118.16h2.5v2.5h-2.5zM482.60 120.92h2.5v2.5h-2.5zM484.33 116.84h2.5v2.5h-2.5zM486.05 115.34h2.5v2.5h-2.5zM487.78 116.69h2.5v2.5h-2.5zM489.51 115.50h2.5v2.5h-2.5zM491.23 112.51h2.5v2.5h-2.5zM492.96 115.41h2.5v2.5h-2.5zM494.68 115.43h2.5v2.5h-2.5zM496.41 116.08h2.5v2.5h-2.5zM498.13 113.19h2.5v2.5h-2.5zM499.86 110.26h2.5v2.5h-2.5zM501.58 110.57h2.5v2.5h-2.5zM503.31 113.17h2.5v2.5h-2.5zM505.04 112.51h2.5v2.5h-2.5zM506.76 111.42h2.5v2.5h-2.5zM508.49 109.62h2.5v2.5h-2.5zM510.21 109.96h2.5v2.5h-2.5zM511.94 108.79h2.5v2.5h-2.5zM513.66 108.19h2.5v2.5h-2.5zM515.39 108.72h2.5v2.5h-2.5zM517.12 107.85h2.5v2.5h-2.5zM518.84 107.00h2.5v2.5h-2.5zM520.57 107.04h2.5v2.5h-2.5zM522.29 105.65h2.5v2.5h-2.5zM524.02 102.97h2.5v2.5h-2.5zM525.74 104.65h2.5v2.5h-2.5zM527.47 105.12h2.5v2.5h-2.5zM529.19 107.58h2.5v2.5h-2.5zM530.92 103.75h2.5v2.5h-2.5zM532.65 107.19h2.5v2.5h-2.5zM534.37 105.90h2.5v2.5h-2.5zM536.10 101.76h2.5v2.5h-2.5zM537.82 101.61h2.5v2.5h-2.5zM539.55 102.62h2.5v2.5h-2.5zM541.27 104.80h2.5v2.5h-2.5zM543.00 102.20h2.5v2.5h-2.5zM544.73 102.32h2.5v2.5h-2.5zM546.45 99.77h2.5v2.5h-2.5zM548.18 96.72h2.5v2.5h-2.5zM549.90 99.70h2.5v2.5h-2.5zM551.63 100.97h2.5v2.5h-2.5zM553.35 101.24h2.5v2.5h-2.5zM555.08 99.04h2.5v2.5h-2.5zM556.80 98.88h2.5v2.5h-2.5zM558.53 100.13h2.5v2.5h-2.5zM560.26 97.68h2.5v2.5h-2.5zM561.98 99.42h2.5v2.5h-2.5zM563.71 95.35h2.5v2.5h-2.5zM565.43 95.10h2.5v2.5h-2.5zM567.16 94.73h2.5v2.5h-2.5zM568.88 96.97h2.5v2.5h-2.5zM570.61 95.02h2.5v2.5h-2.5zM572.34 95.77h2.5v2.5h-2.5zM574.06 95.88h2.5v2.5h-2.5zM575.79 95.50h2.5v2.5h-2.5zM577.51 96.79h2.5v2.5h-2.5zM579.24 96.73h2.5v2.5h-2.5zM580.96 92.76h2.5v2.5h-2.5zM582.69 94.10h2.5v2.5h-2.5zM584.41 93.16h2.5v2.5h-2.5zM586.14 91.60h2.5v2.5h-2.5zM587.87 95.76h2.5v2.5h-2.5zM589.59 93.85h2.5v2.5h-2.5zM591.32 91.93h2.5v2.5h-2.5zM593.04 91.25h2.5v2.5h-2.5zM594.77 92.19h2.5v2.5h-2.5zM596.49 89.55h2.5v2.5h-2.5zM598.22 90.59h2.5v2.5h-2.5zM599.95 92.63h2.5v2.5h-2.5zM601.67 91.86h2.5v2.5h-2.5zM603.40 88.70h2.5v2.5h-2.5zM605.12 88.96h2.5v2.5h-2.5zM606.85 92.57h2.5v2.5h-2.5zM608.57 86.93h2.5v2.5h-2.5zM610.30 87.89h2.5v2.5h-2.5zM612.02 86.38h2.5v2.5h-2.5zM613.75 88.95h2.5v2.5h-2.5zM615.48 88.54h2.5v2.5h-2.5zM617.20 89.64h2.5v2.5h-2.5zM618.93 83.34h2.5v2.5h-2.5zM620.65 87.55h2.5v2.5h-2.5zM622.38 84.39h2.5v2.5h-2.5zM624.10 87.82h2.5v2.5h-2.5zM625.83 86.23h2.5v2.5h-2.5zM627.56 89.01h2.5v2.5h-2.5zM629.28 86.64h2.5v2.5h-2.5zM631.01 84.14h2.5v2.5h-2.5zM632.73 87.59h2.5v2.5h-2.5zM634.46 83.52h2.5v2.5h-2.5zM636.18 84.50h2.5v2.5h-2.5zM637.91 86.54h2.5v2.5h-2.5zM639.63 85.42h2.5v2.5h-2.5zM641.36 85.12h2.5v2.5h-2.5zM643.09 84.22h2.5v2.5h-2.5zM644.81 84.80h2.5v2.5h-2.5zM646.54 85.05h2.5v2.5h-2.5zM648.26 83.97h2.5v2.5h-2.5zM649.99 84.94h2.5v2.5h-2.5zM651.71 85.16h2.5v2.5h-2.5zM653.44 82.90h2.5v2.5h-2.5zM655.17 81.15h2.5v2.5h-2.5zM656.89 84.92h2.5v2.5h-2.5zM658.62 82.18h2.5v2.5h-2.5zM660.34 83.05h2.5v2.5h-2.5zM662.07 83.38h2.5v2.5h-2.5zM663.79 80.16h2.5v2.5h-2.5zM665.52 82.22h2.5v2.5h-2.5zM667.24 78.69h2.5v2.5h-2.5zM668.97 82.25h2.5v2.5h-2.5zM670.70 80.13h2.5v2.5h-2.5zM672.42 80.94h2.5v2.5h-2.5zM674.15 81.61h2.5v2.5h-2.5zM675.87 79.21h2.5v2.5h-2.5zM677.60 80.24h2.5v2.5h-2.5zM679.32 78.80h2.5v2.5h-2.5zM681.05 79.68h2.5v2.5h-2.5z" fill="#303030"/>
<rect x="419.2" y="20.3" width="73.2" height="31.0" fill="#111"/>
<rect x="417.2" y="18.3" width="73.2" height="31.0" fill="#fff" stroke="#4a4a4a" stroke-width="1"/>
<line x1="421.2" y1="26.8" x2="445" y2="26.8" stroke="#b4b4b4" stroke-width="2.4"/>
<path d="M433 25.0l2 3.4h-4z" fill="#fff" stroke="#aaa" stroke-width="0.5"/>
<text x="447" y="30.2" font-size="8.75" font-weight="bold">RNA only</text>
<line x1="421.2" y1="40.4" x2="445" y2="40.4" stroke="#b4b4b4" stroke-width="2.4"/>
<rect x="431.6" y="39.0" width="2.8" height="2.8" fill="#222"/>
<text x="447" y="43.7" font-size="8.75" font-weight="bold">+ StpA</text>
</svg>
</body></html>
